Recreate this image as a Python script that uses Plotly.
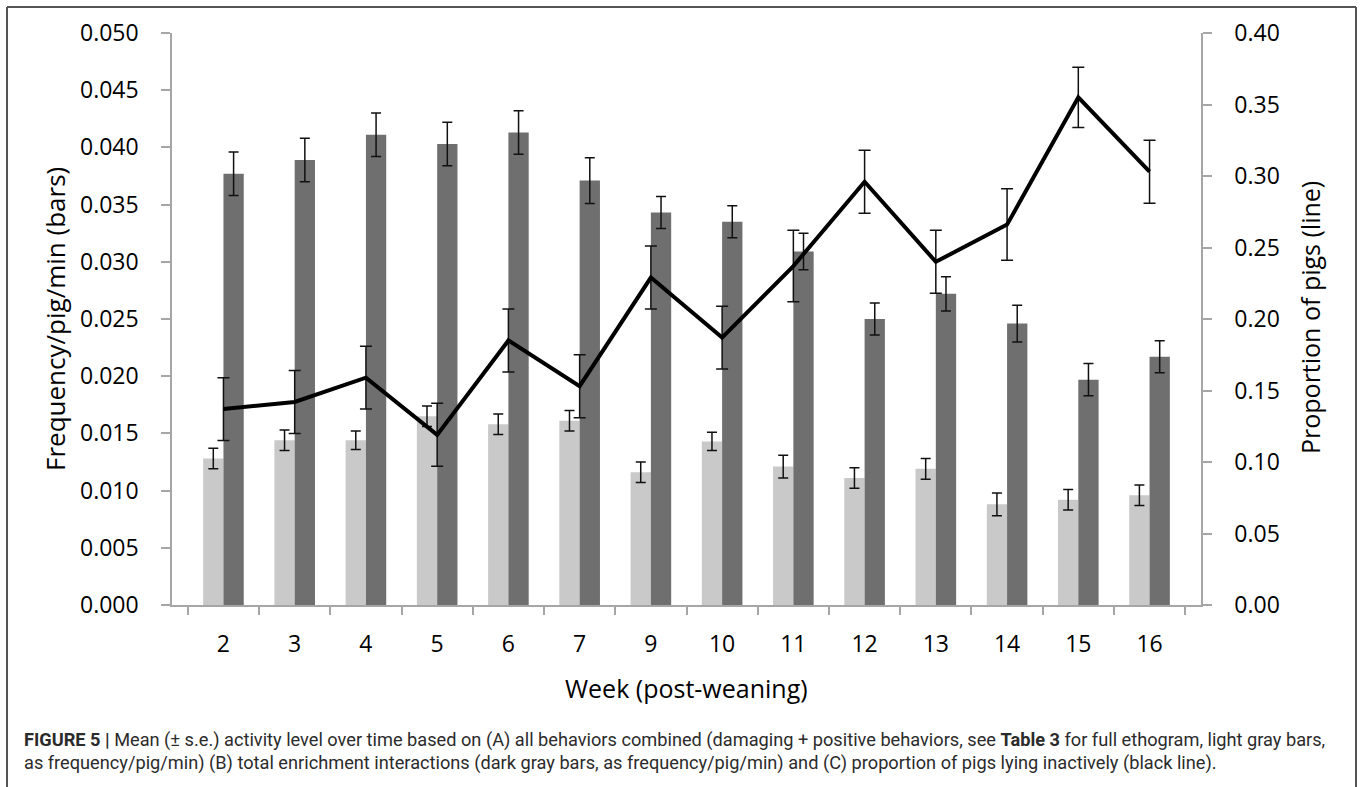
import plotly.graph_objects as go

# ---- data ----
weeks = ["2", "3", "4", "5", "6", "7", "9", "10", "11", "12", "13", "14", "15", "16"]

all_behaviors = [0.0128, 0.0144, 0.0144, 0.0165, 0.0158, 0.0161, 0.0116,
                 0.0143, 0.0121, 0.0111, 0.0119, 0.0088, 0.0092, 0.0096]
all_behaviors_se = [0.0009, 0.0009, 0.0008, 0.0009, 0.0009, 0.0009, 0.0009,
                    0.0008, 0.0010, 0.0009, 0.0009, 0.0010, 0.0009, 0.0009]

enrichment = [0.0377, 0.0389, 0.0411, 0.0403, 0.0413, 0.0371, 0.0343,
              0.0335, 0.0309, 0.0250, 0.0272, 0.0246, 0.0197, 0.0217]
enrichment_se = [0.0019, 0.0019, 0.0019, 0.0019, 0.0019, 0.0020, 0.0014,
                 0.0014, 0.0016, 0.0014, 0.0015, 0.0016, 0.0014, 0.0014]

lying = [0.137, 0.142, 0.159, 0.119, 0.185, 0.153, 0.229,
         0.187, 0.237, 0.296, 0.240, 0.266, 0.355, 0.303]
lying_se = [0.022, 0.022, 0.022, 0.022, 0.022, 0.022, 0.022,
            0.022, 0.025, 0.022, 0.022, 0.025, 0.021, 0.022]

caption_line1 = ("<b>FIGURE 5 |</b> Mean (± s.e.) activity level over time based on (A) all behaviors "
                 "combined (damaging + positive behaviors, see <b>Table 3</b> for full ethogram, light gray bars,")
caption_line2 = ("as frequency/pig/min) (B) total enrichment interactions (dark gray bars, as "
                 "frequency/pig/min) and (C) proportion of pigs lying inactively (black line).")

# ---- layout geometry (pixels) ----
W, H = 1363, 787
L, R, T, B = 172, 162, 33, 182
PW, PH = W - L - R, H - T - B


def px(xp):
    return (xp - L) / PW


def py(yp):
    return (H - B - yp) / PH


FONT = "Open Sans"
CAP_FONT = "Roboto"
AXIS_COLOR = "#a6a6a6"

fig = go.Figure()
fig.add_trace(go.Bar(
    x=weeks, y=all_behaviors, marker=dict(color="#c9c9c9", line=dict(width=0)),
    error_y=dict(type="data", array=all_behaviors_se, color="#111111", thickness=1.5, width=5),
    name="All behaviors"))
fig.add_trace(go.Bar(
    x=weeks, y=enrichment, marker=dict(color="#6f6f6f", line=dict(width=0)),
    error_y=dict(type="data", array=enrichment_se, color="#111111", thickness=1.5, width=5),
    name="Enrichment"))
fig.add_trace(go.Scatter(
    x=weeks, y=lying, yaxis="y2", mode="lines",
    line=dict(color="black", width=4),
    error_y=dict(type="data", array=lying_se, color="#111111", thickness=1.5, width=6),
    name="Lying"))

fig.update_layout(
    width=W, height=H, autosize=False,
    margin=dict(l=L, r=R, t=T, b=B, pad=0),
    paper_bgcolor="white", plot_bgcolor="white",
    showlegend=False, barmode="group", bargap=0.43, bargroupgap=0,
    font=dict(family=FONT, color="black"),
    xaxis=dict(type="category", showline=True, linecolor=AXIS_COLOR, linewidth=1.5,
               ticks="outside", tickson="boundaries", ticklen=8, tickcolor=AXIS_COLOR,
               tickwidth=1.5, tickfont=dict(size=23, family=FONT, color="black"),
               showgrid=False, zeroline=False, ticklabelstandoff=18),
    yaxis=dict(range=[0, 0.05], dtick=0.005, tickformat=".3f", showline=True,
               linecolor=AXIS_COLOR, linewidth=1.5, ticks="outside", ticklen=9,
               tickcolor=AXIS_COLOR, tickwidth=1.5, showgrid=False, zeroline=False,
               tickfont=dict(size=23, family=FONT, color="black"), ticklabelstandoff=18),
    yaxis2=dict(range=[0, 0.40], dtick=0.05, tickformat=".2f", overlaying="y", side="right",
                showline=True, linecolor=AXIS_COLOR, linewidth=1.5, ticks="outside", ticklen=9,
                tickcolor=AXIS_COLOR, tickwidth=1.5, showgrid=False, zeroline=False,
                tickfont=dict(size=23, family=FONT, color="black"), ticklabelstandoff=18),
)

annotations = [
    dict(text="Week (post-weaning)", x=0.5, y=py(688), xref="paper", yref="paper",
         xanchor="center", yanchor="middle", showarrow=False,
         font=dict(size=25, family=FONT, color="black")),
    dict(text="Frequency/pig/min (bars)", x=px(55), y=py(319), xref="paper", yref="paper",
         xanchor="center", yanchor="middle", showarrow=False, textangle=-90,
         font=dict(size=26, family=FONT, color="black")),
    dict(text="Proportion of pigs (line)", x=px(1310), y=py(318), xref="paper", yref="paper",
         xanchor="center", yanchor="middle", showarrow=False, textangle=-90,
         font=dict(size=25, family=FONT, color="black")),
    dict(text=caption_line1, x=px(22), y=py(740), xref="paper", yref="paper",
         xanchor="left", yanchor="middle", showarrow=False,
         font=dict(size=18.2, family=CAP_FONT, color="#2b2b2b")),
    dict(text=caption_line2, x=px(22), y=py(763), xref="paper", yref="paper",
         xanchor="left", yanchor="middle", showarrow=False,
         font=dict(size=18.2, family=CAP_FONT, color="#2b2b2b")),
]
fig.update_layout(annotations=annotations)

frame = dict(color="#555555", width=2)
fig.update_layout(shapes=[
    dict(type="line", xref="paper", yref="paper", x0=px(7), x1=px(7), y0=py(800), y1=py(7), line=frame),
    dict(type="line", xref="paper", yref="paper", x0=px(7), x1=px(1356), y0=py(7), y1=py(7), line=frame),
    dict(type="line", xref="paper", yref="paper", x0=px(1356), x1=px(1356), y0=py(800), y1=py(7), line=frame),
])

fig.write_html("out.html", config={"displayModeBar": False},
               post_script="document.body.style.margin='0';document.body.style.overflow='hidden';")
